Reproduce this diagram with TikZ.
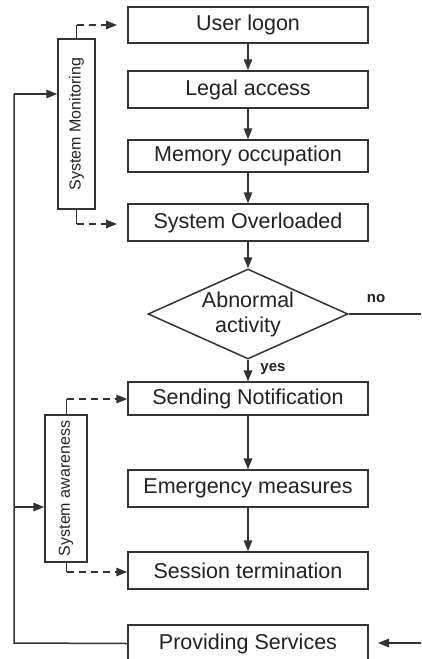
\documentclass[tikz,border=0pt]{standalone}
\usepackage{fontspec}
\setmainfont{Liberation Sans}
\usetikzlibrary{arrows.meta,shapes.geometric}
\definecolor{ln}{HTML}{333333}
\definecolor{tx}{HTML}{222222}
\tikzset{
  stepbox/.style={draw=ln, line width=1.5pt, minimum width=240pt, inner sep=0pt, text=tx, font=\fontsize{21.5}{24}\selectfont},
  sidebox/.style={draw=ln, line width=1.5pt, inner sep=0pt, text=tx, font=\fontsize{16}{18}\selectfont},
  decbox/.style={draw=ln, line width=1.5pt, diamond, aspect=2.2, minimum width=200pt, minimum height=90pt, inner sep=0pt, text=tx, align=center, font=\fontsize{21.5}{25}\selectfont},
  conn/.style={draw=ln, line width=1.5pt, -{Triangle[length=11pt,width=8.5pt]}},
  plain/.style={draw=ln, line width=1.5pt},
  dashconn/.style={conn, dash pattern=on 7pt off 5pt},
  dashplain/.style={plain, dash pattern=on 7pt off 5pt},
  lbl/.style={text=tx, font=\bfseries\fontsize{15}{17}\selectfont, inner sep=0pt}
}
\begin{document}
\begin{tikzpicture}[x=1pt,y=-1pt]
\useasboundingbox (0,0) rectangle (421,659);
\clip (0,0) rectangle (421,659);
\fill[white] (0,0) rectangle (421,659);
% main steps
\node[stepbox, minimum height=36pt] (u) at (248,25) {User logon};
\node[stepbox, minimum height=37pt] (l) at (248,89.5) {Legal access};
\node[stepbox, minimum height=32pt] (m) at (248,156) {Memory occupation};
\node[stepbox, minimum height=37pt] (o) at (248,222.5) {System Overloaded};
\node[decbox] (d) at (248,314) {Abnormal\\activity};
\node[stepbox, minimum height=33pt] (s) at (248,398.5) {Sending Notification};
\node[stepbox, minimum height=37pt] (e) at (248,488.5) {Emergency measures};
\node[stepbox, minimum height=37pt] (t) at (248,570.5) {Session termination};
\node[stepbox, minimum height=37pt] (p) at (248,643.5) {Providing Services};
% side boxes
\node[sidebox, minimum width=37pt, minimum height=170pt] (sm) at (76.5,124) {\rotatebox{90}{System Monitoring}};
\node[sidebox, minimum width=42pt, minimum height=147pt] (sa) at (66,488.5) {\rotatebox{90}{System awareness}};
% main flow
\draw[conn] (u) -- (l);
\draw[conn] (l) -- (m);
\draw[conn] (m) -- (o);
\draw[conn] (o) -- (d);
\draw[conn] (d) -- (s);
\node[lbl] (yes) at (273,369) {yes};
\draw[conn] (s) -- (e);
\draw[conn] (e) -- (t);
% no branch
\coordinate (noend) at (421,314);
\draw[plain] (d.east) -- (noend);
\node[lbl] (no) at (376,299) {no};
% right arrow into Providing Services
\coordinate (rin) at (422,643);
\coordinate (rtip) at (378,643);
\draw[conn] (rin) -- (rtip);
% loop on the left
\coordinate (lb) at (14,643);
\coordinate (lt) at (14,94);
\coordinate (lm) at (14,507);
\draw[plain] (p.west) -- (lb) -- (lt);
\draw[conn] (lt) -- (lt -| sm.west);
\draw[conn] (lm) -- (lm -| sa.west);
% dashed monitoring links
\coordinate (smt) at (76.5,25);
\coordinate (smtt) at (117,25);
\coordinate (smb) at (76.5,224);
\coordinate (smbt) at (117,224);
\draw[plain] (sm.north -| smt) -- (smt);
\draw[dashconn] (smt) -- (smtt);
\draw[plain] (sm.south -| smb) -- (smb);
\draw[dashconn] (smb) -- (smbt);
% dashed awareness links
\coordinate (sat) at (66.5,399);
\coordinate (sab) at (66.5,572);
\draw[plain] (sa.north -| sat) -- (sat);
\draw[dashconn] (sat) -- (sat -| s.west);
\draw[plain] (sa.south -| sab) -- (sab);
\draw[dashconn] (sab) -- (sab -| t.west);
\end{tikzpicture}
\end{document}
